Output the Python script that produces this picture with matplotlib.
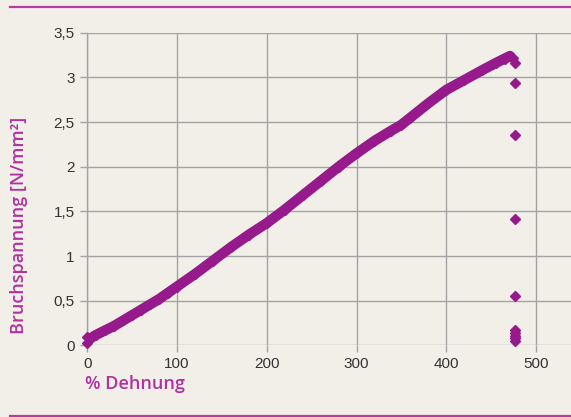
import numpy as np
import matplotlib
matplotlib.use('Agg')
import matplotlib.pyplot as plt
from matplotlib.lines import Line2D

# Kurve (Dehnung %, Bruchspannung N/mm2)
dehnung = [0, 5, 10, 20, 30, 40, 50, 60, 70, 80, 90, 100, 120, 140, 160, 180,
           200, 220, 240, 260, 280, 300, 320, 338, 350, 360, 380, 400, 420,
           440, 455, 465, 471]
spannung = [0.06, 0.09, 0.12, 0.17, 0.22, 0.28, 0.34, 0.40, 0.46, 0.52, 0.59,
            0.66, 0.80, 0.95, 1.10, 1.24, 1.37, 1.52, 1.68, 1.84, 2.00, 2.15,
            2.29, 2.40, 2.47, 2.55, 2.71, 2.86, 2.97, 3.08, 3.16, 3.21, 3.24]

# Bruchpunkte
bruch_x = [474, 477, 477, 477, 477, 477, 477, 477, 477, 477, 477, 0, 0]
bruch_y = [3.22, 3.16, 2.94, 2.36, 1.42, 0.55, 0.17, 0.14, 0.11, 0.08, 0.05, 0.03, 0.10]

xticks = [0, 100, 200, 300, 400, 500]
yticks = [0, 0.5, 1, 1.5, 2, 2.5, 3, 3.5]
ylabels = ['0', '0,5', '1', '1,5', '2', '2,5', '3', '3,5']

bg = '#f2efe9'
lila = '#961a8b'
lila_txt = '#b0329f'

fig = plt.figure(figsize=(5.71, 4.17), dpi=100, facecolor=bg)
ax = fig.add_axes([0.153, 0.1715, 0.847, 0.7501])
ax.set_facecolor(bg)

ax.plot(dehnung, spannung, color=lila, lw=7.4, solid_capstyle='round', zorder=3)
ax.plot(dehnung, spannung, 'D', color=lila, ms=5, zorder=3)
ax.plot(bruch_x, bruch_y, 'D', color=lila, ms=5, zorder=3, clip_on=False)

ax.set_xlim(0, 539)
ax.set_ylim(0, 3.5)
ax.set_xticks(xticks)
ax.set_yticks(yticks)
ax.set_yticklabels(ylabels)
ax.grid(True, color='#a3a3a3', lw=1.0)
ax.set_axisbelow(True)
for s in ['top', 'right', 'bottom']:
    ax.spines[s].set_visible(False)
ax.spines['left'].set_color('#a3a3a3')
ax.spines['left'].set_linewidth(1.0)
ax.tick_params(axis='both', colors='#a3a3a3', labelcolor='#333333',
               labelsize=11, length=5, width=1.0)
ax.tick_params(axis='y', pad=4)
for lab in ax.get_xticklabels() + ax.get_yticklabels():
    lab.set_family('Liberation Sans')

ax.set_ylabel('Bruchspannung [N/mm²]', color=lila_txt, fontsize=13,
              fontweight='semibold', family='Open Sans')
ax.yaxis.set_label_coords(-0.122, 0.385)
fig.text(0.148, 0.067, '% Dehnung', color=lila_txt, fontsize=13,
         fontweight='semibold', family='Open Sans')

# Linien oben und unten
fig.add_artist(Line2D([0.017, 1.0], [0.984, 0.984], color='#b43ca5', lw=1.6))
fig.add_artist(Line2D([0.017, 1.0], [0.003, 0.003], color='#b43ca5', lw=1.6))

fig.savefig('out.png', dpi=100, facecolor=bg)
